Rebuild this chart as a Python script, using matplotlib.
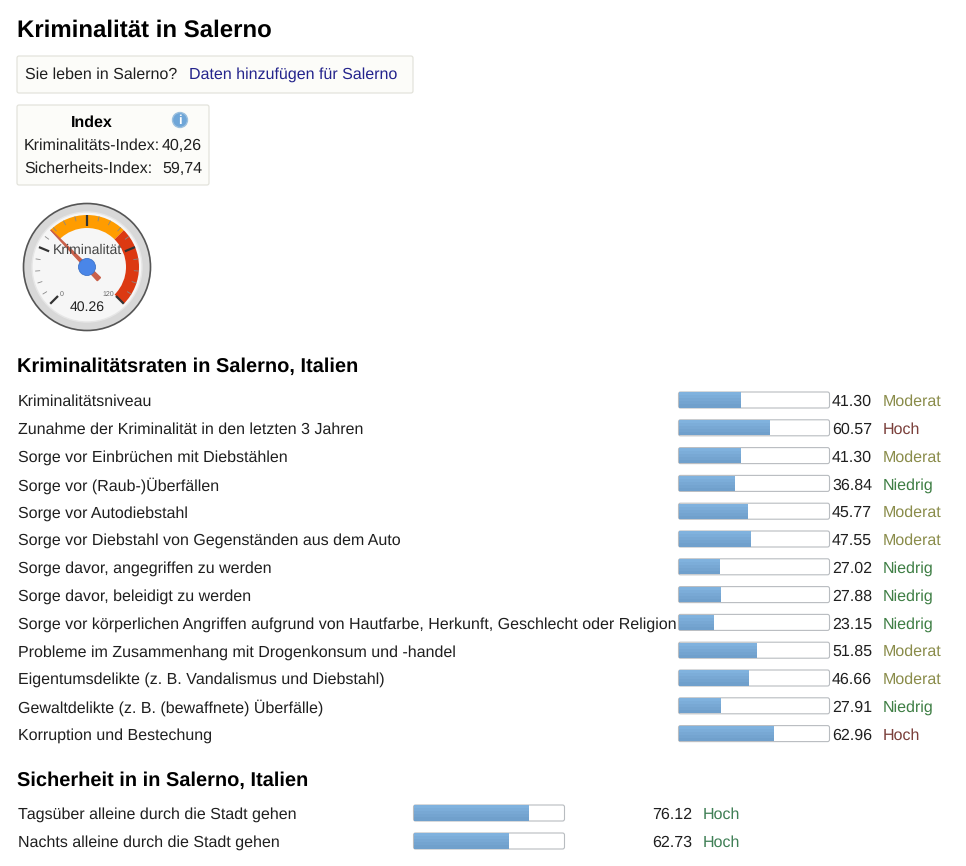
import numpy as np
import matplotlib
matplotlib.use("Agg")
import matplotlib.pyplot as plt
from matplotlib.patches import Circle, FancyBboxPatch, Wedge

plt.rcParams["font.family"] = ["Liberation Sans", "DejaVu Sans"]
plt.rcParams["text.hinting"] = "no_hinting"
plt.rcParams["text.hinting_factor"] = 1

# data
crime_labels = [
    "Kriminalitätsniveau",
    "Zunahme der Kriminalität in den letzten 3 Jahren",
    "Sorge vor Einbrüchen mit Diebstählen",
    "Sorge vor (Raub-)Überfällen",
    "Sorge vor Autodiebstahl",
    "Sorge vor Diebstahl von Gegenständen aus dem Auto",
    "Sorge davor, angegriffen zu werden",
    "Sorge davor, beleidigt zu werden",
    "Sorge vor körperlichen Angriffen aufgrund von Hautfarbe, Herkunft, Geschlecht oder Religion",
    "Probleme im Zusammenhang mit Drogenkonsum und -handel",
    "Eigentumsdelikte (z. B. Vandalismus und Diebstahl)",
    "Gewaltdelikte (z. B. (bewaffnete) Überfälle)",
    "Korruption und Bestechung",
]
crime_values = [41.30, 60.57, 41.30, 36.84, 45.77, 47.55, 27.02, 27.88, 23.15, 51.85, 46.66, 27.91, 62.96]
crime_levels = ["Moderat", "Hoch", "Moderat", "Niedrig", "Moderat", "Moderat", "Niedrig",
                "Niedrig", "Niedrig", "Moderat", "Moderat", "Niedrig", "Hoch"]

safety_labels = ["Tagsüber alleine durch die Stadt gehen", "Nachts alleine durch die Stadt gehen"]
safety_values = [76.12, 62.73]
safety_levels = ["Hoch", "Hoch"]

gauge_value = 40.26
gauge_max = 120

level_colors = {"Moderat": "#8a8c4a", "Hoch": "#7a3f3a", "Niedrig": "#3f7f45"}
TEXT = "#1f1f1f"
FS = 11.5

fig = plt.figure(figsize=(9.66, 8.66), dpi=100)
ax = fig.add_axes([0, 0, 1, 1])
ax.set_xlim(0, 966)
ax.set_ylim(866, 0)
ax.axis("off")


def box(x, y, w, h, fc="#fcfcf9", ec="#e0e0d8"):
    ax.add_patch(FancyBboxPatch((x, y), w, h, boxstyle="round,pad=0,rounding_size=2",
                                fc=fc, ec=ec, lw=0.8, zorder=1))


def meter(x, y, value, level, color, label, value_x, level_x):
    scale = 1.51
    box(x, y - 8, 100 * scale, 16, fc="white", ec="#b8bcc0")
    # soft shading from top to bottom of the bar
    for j, shade in enumerate(["#80b2de", "#7cadd9", "#78a8d4", "#74a4d0", "#70a0cc"]):
        ax.barh(y - 6 + j * 3, value * scale, height=3.2, left=x + 0.5, color=shade, zorder=2)
    ax.text(18, y + 2, label, fontsize=FS, color=TEXT, va="center")
    ax.text(value_x, y + 2, f"{value:.2f}", fontsize=FS, color=TEXT, va="center", ha="right")
    ax.text(level_x, y + 2, level, fontsize=FS, color=color, va="center")


# header
ax.text(17, 30.5, "Kriminalität in Salerno", fontsize=17.1, fontweight="bold", color="black", va="center")
box(17, 56, 396, 37)
ax.text(25, 75, "Sie leben in Salerno?", fontsize=FS, color=TEXT, va="center")
ax.text(189, 75, "Daten hinzufügen für Salerno", fontsize=FS, color="#24248c", va="center")

# index box
box(17, 105, 192, 80)
ax.text(92, 122.5, "Index", fontsize=FS, fontweight="bold", color="black", va="center", ha="center")
ax.add_patch(Circle((180, 120), 7.5, fc="#6fa6d8", ec="#9cc0de", lw=1, zorder=2))
ax.text(180, 120.5, "i", fontsize=9, fontweight="bold", color="white", va="center", ha="center", zorder=3)
ax.text(24, 145.5, "Kriminalitäts-Index:", fontsize=FS, color=TEXT, va="center")
ax.text(202, 145.5, "40,26", fontsize=FS, color=TEXT, va="center", ha="right")
ax.text(24, 168.5, "Sicherheits-Index:", fontsize=FS, color=TEXT, va="center")
ax.text(202, 168.5, "59,74", fontsize=FS, color=TEXT, va="center", ha="right")

# gauge
cx, cy = 87, 267


def gauge_angle(v):
    return np.radians(225 - v / gauge_max * 270)


def gauge_point(v, r):
    a = gauge_angle(v)
    return cx + r * np.cos(a), cy - r * np.sin(a)


ax.add_patch(Circle((cx, cy), 63.5, fc="#d8d8d8", ec="#555555", lw=1.2, zorder=2))
ax.add_patch(Circle((cx, cy), 55, fc="#f6f6f6", ec="#e6e6e6", lw=1, zorder=2))
# y axis is inverted so wedge angles run clockwise from +x
for start, end, color in [(40, 80, "#ff9c00"), (80, 120, "#dc3912")]:
    a0 = 360 - np.degrees(gauge_angle(start))
    a1 = 360 - np.degrees(gauge_angle(end))
    ax.add_patch(Wedge((cx, cy), 52, a0, a1, width=13, fc=color, ec="none", zorder=3))
for v in range(0, gauge_max + 1, 6):
    major = v % 30 == 0
    x0, y0 = gauge_point(v, 52)
    x1, y1 = gauge_point(v, 41 if major else 47)
    ax.plot([x0, x1], [y0, y1], color="#333333" if major else "#888888",
            lw=1.6 if major else 0.6, zorder=4, solid_capstyle="butt")
ax.text(62, 294, "0", fontsize=5, color="#666666", ha="center", va="center", zorder=4)
ax.text(108, 294, "120", fontsize=5, color="#666666", ha="center", va="center", zorder=4)
ax.text(cx, 250, "Kriminalität", fontsize=10, color="#444444", ha="center", va="center", zorder=6)
ax.text(cx, 307, "40.26", fontsize=10.2, color="#222222", ha="center", va="center", zorder=6)
# needle: thick at the hub, pointed at the tip
a = gauge_angle(gauge_value)
tip = gauge_point(gauge_value, 52)
tail = gauge_point(gauge_value, -17)
nx, ny = np.sin(a), np.cos(a)
ax.fill([tip[0], tail[0] + 2.2 * nx, tail[0] - 2.2 * nx],
        [tip[1], tail[1] + 2.2 * ny, tail[1] - 2.2 * ny], color="#c9604a", zorder=5)
ax.add_patch(Circle((cx, cy), 8.5, fc="#4a86e8", ec="#3f74c8", lw=0.6, zorder=7))

# crime rates
ax.text(17, 367, "Kriminalitätsraten in Salerno, Italien", fontsize=14.4, fontweight="bold", color="black", va="center")
for i, (label, value, level) in enumerate(zip(crime_labels, crime_values, crime_levels)):
    y = 400 + i * 27.8
    meter(678.5, y, value, level, level_colors[level], label, 872, 883)

# safety
ax.text(17, 780.5, "Sicherheit in in Salerno, Italien", fontsize=14.4, fontweight="bold", color="black", va="center")
for i, (label, value, level) in enumerate(zip(safety_labels, safety_values, safety_levels)):
    y = 813 + i * 28
    meter(413.5, y, value, level, "#3f7f55", label, 692, 703)

fig.savefig("out.png", dpi=100, facecolor="white")
